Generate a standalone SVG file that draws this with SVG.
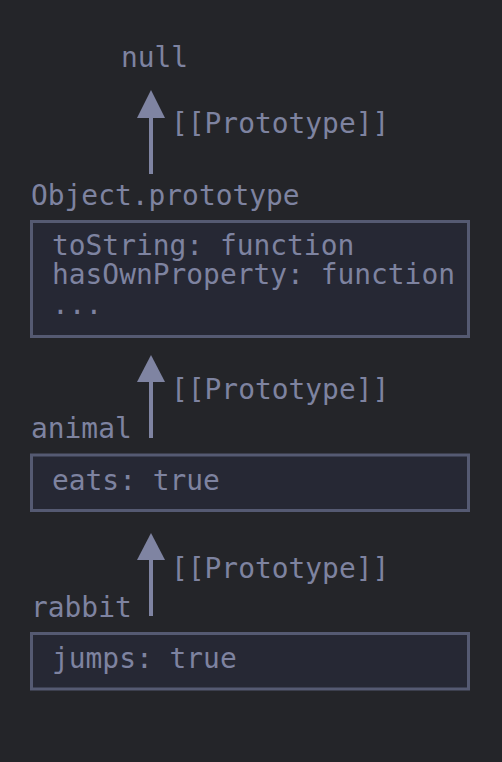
<svg xmlns="http://www.w3.org/2000/svg" width="502" height="762" viewBox="0 0 502 762">
<style>
text{font-family:"DejaVu Sans Mono","Liberation Mono",monospace;font-size:27.9px;fill:#7e83a0}
.box{fill:#262834;stroke:#555a72;stroke-width:3}
.ln{stroke:#7f84a2;stroke-width:4}
.hd{fill:#7f84a2}
</style>
<rect width="502" height="762" fill="#242529"/>
<g id="connectors">
<line class="ln" x1="151" y1="116" x2="151" y2="174"/><polygon class="hd" points="151,90 137,118 165,118"/>
<text x="171" y="133">[[Prototype]]</text>
<line class="ln" x1="151" y1="380" x2="151" y2="438"/><polygon class="hd" points="151,355 137,382 165,382"/>
<text x="171" y="399">[[Prototype]]</text>
<line class="ln" x1="151" y1="558" x2="151" y2="616"/><polygon class="hd" points="151,533 137,560 165,560"/>
<text x="171" y="578">[[Prototype]]</text>
</g>
<g id="null"><text x="121" y="67">null</text></g>
<g id="object-prototype">
<text x="31" y="205">Object.prototype</text>
<rect class="box" x="31.5" y="221.5" width="437" height="115"/>
<text x="52" y="255">toString: function</text>
<text x="52" y="284">hasOwnProperty: function</text>
<text x="52" y="314">...</text>
</g>
<g id="animal">
<text x="31" y="438">animal</text>
<rect class="box" x="31.5" y="455" width="437" height="55.5"/>
<text x="52" y="490">eats: true</text>
</g>
<g id="rabbit">
<text x="31" y="617">rabbit</text>
<rect class="box" x="31.5" y="633.5" width="437" height="55.5"/>
<text x="52" y="668">jumps: true</text>
</g>
</svg>
